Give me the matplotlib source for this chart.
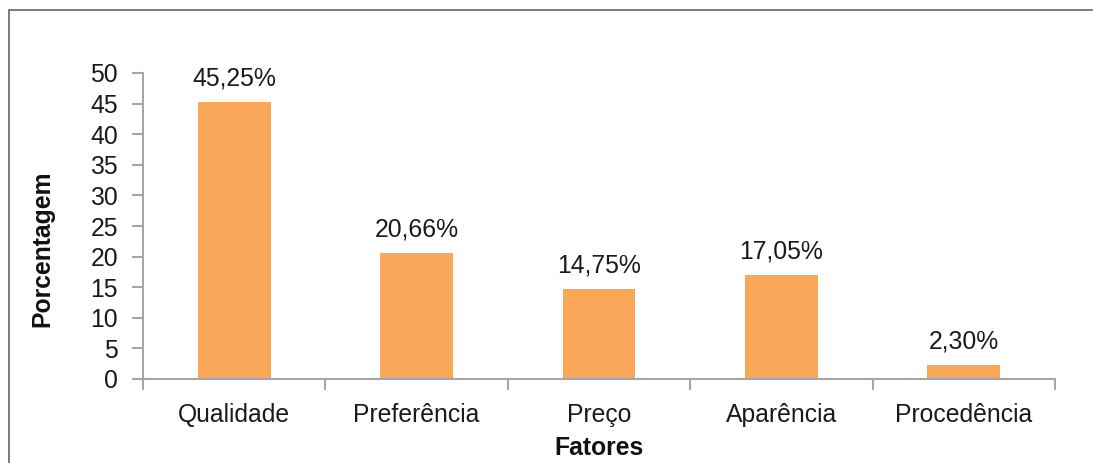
import matplotlib
matplotlib.use("Agg")
import matplotlib.pyplot as plt
from matplotlib.patches import Rectangle

categories = ["Qualidade", "Preferência", "Preço", "Aparência", "Procedência"]
values = [45.25, 20.66, 14.75, 17.05, 2.30]
value_labels = ["45,25%", "20,66%", "14,75%", "17,05%", "2,30%"]
y_ticks = [0, 5, 10, 15, 20, 25, 30, 35, 40, 45, 50]

plt.rcParams["font.family"] = ["Liberation Sans", "DejaVu Sans"]

W, H = 1093, 463
FS = 17.8
fig = plt.figure(figsize=(W / 100, H / 100), dpi=100)
fig.patch.set_facecolor("white")

# outer chart frame
fig.patches.append(Rectangle((9 / W, -0.1), 1.2, 1 - 10 / H + 0.1,
                             transform=fig.transFigure, fill=False,
                             edgecolor="#5d6670", linewidth=1.2))

ax = fig.add_axes([143 / W, 1 - 379 / H, (1055 - 143) / W, (379 - 73) / H])
axis_color = "#a6a6a6"

x = list(range(len(categories)))
ax.bar(x, values, width=0.4, color="#f9a85a", edgecolor="none", zorder=2)

for xi, v, lab in zip(x, values, value_labels):
    ax.annotate(lab, (xi, v), xytext=(0, 8), textcoords="offset points",
                ha="center", va="bottom", fontsize=FS, color="#1a1a1a")

ax.set_xlim(-0.5, len(categories) - 0.5)
ax.set_ylim(0, 50)
ax.set_yticks(y_ticks)
ax.set_yticklabels([str(t) for t in y_ticks])
ax.set_xticks(x)
ax.set_xticklabels(categories)
ax.set_xticks([i - 0.5 for i in range(len(categories) + 1)], minor=True)

for side in ["top", "right"]:
    ax.spines[side].set_visible(False)
for side in ["left", "bottom"]:
    ax.spines[side].set_color(axis_color)
    ax.spines[side].set_linewidth(1.5)

ax.tick_params(axis="y", direction="out", length=8, width=1.5, color=axis_color,
               labelsize=FS, labelcolor="#1a1a1a", pad=10)
ax.tick_params(axis="x", which="major", length=0, labelsize=FS,
               labelcolor="#1a1a1a", pad=17)
ax.tick_params(axis="x", which="minor", direction="out", length=8, width=1.5,
               color=axis_color)

ax.set_xlabel("Fatores", fontsize=FS, fontweight="bold", labelpad=7, color="#111111")
ax.set_ylabel("Porcentagem", fontsize=FS, fontweight="bold", color="#111111")
ax.yaxis.set_label_coords((54 - 143) / (1055 - 143), (379 - 249) / (379 - 73))

fig.savefig("out.png", dpi=100, facecolor="white")
